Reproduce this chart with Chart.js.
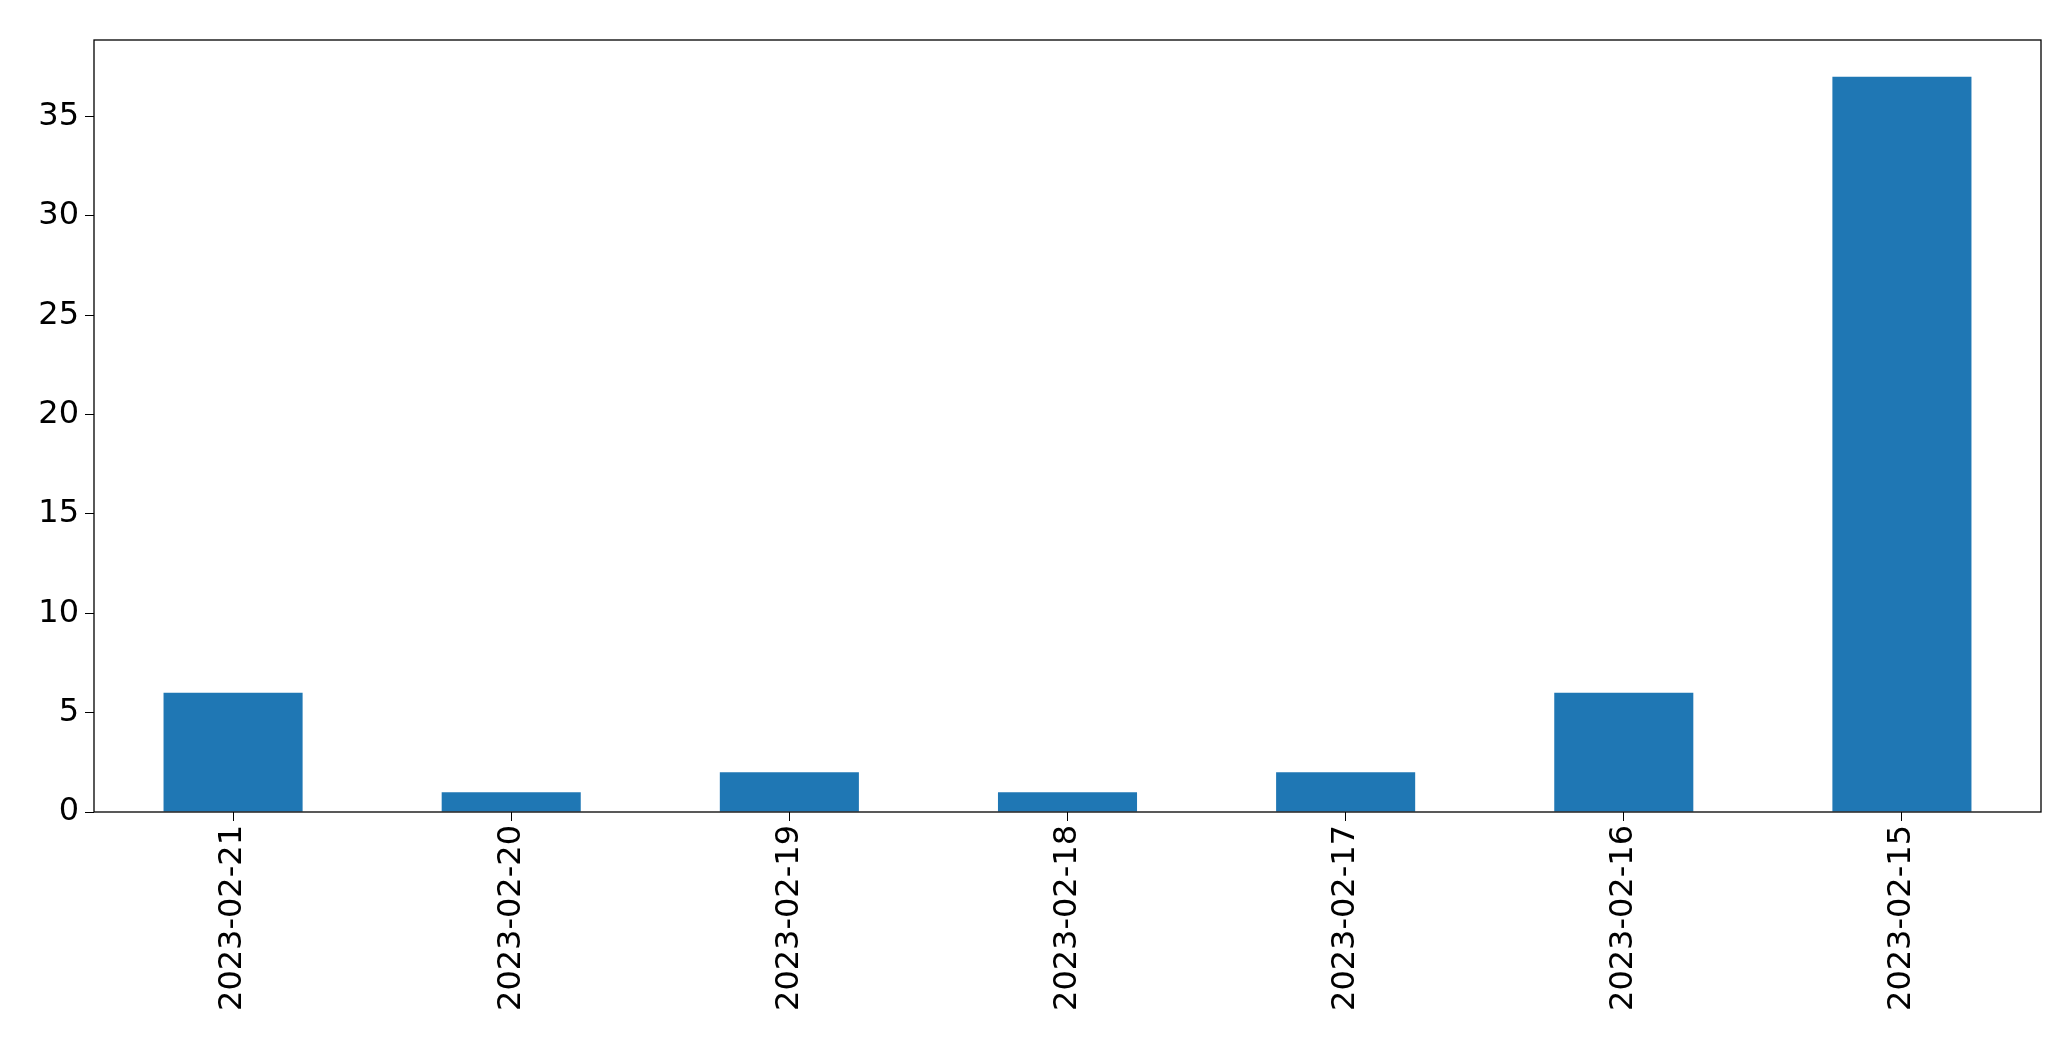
<!DOCTYPE html>
<html><head><meta charset="utf-8">
<script src="https://cdn.jsdelivr.net/npm/chart.js@4"></script>
<style>html,body{margin:0;padding:0;background:#fff}#c{display:block}</style>
</head><body>
<canvas id="c" width="2071" height="1061" style="width:2071px;height:1061px"></canvas>
<script>
const categories = ["2023-02-21","2023-02-20","2023-02-19","2023-02-18","2023-02-17","2023-02-16","2023-02-15"];
const values = [6,1,2,1,2,6,37];
const yTicks = [0,5,10,15,20,25,30,35];

const frame = {
  id:'frame',
  afterDraw(chart){
    const {ctx, chartArea:a} = chart;
    ctx.save(); ctx.strokeStyle='#000'; ctx.lineWidth=1.3;
    ctx.strokeRect(a.left, a.top, a.right-a.left, a.bottom-a.top);
    ctx.restore();
  }
};
new Chart(document.getElementById('c'), {
  type:'bar',
  data:{labels:categories, datasets:[{data:values, backgroundColor:'#1f77b4', categoryPercentage:1, barPercentage:0.5}]},
  options:{
    responsive:false, animation:false,
    layout:{padding:{top:40,right:30,left:0,bottom:0}},
    plugins:{legend:{display:false}, tooltip:{enabled:false}},
    scales:{
      x:{offset:true,
        grid:{display:true, drawOnChartArea:false, drawTicks:true, tickLength:9, color:'#000', offset:false},
        border:{display:false},
        ticks:{color:'#000', font:{family:'DejaVu Sans', size:32}, maxRotation:90, minRotation:90, padding:4},
        afterFit(s){ s.height = 249; }
      },
      y:{min:0, max:38.85,
        afterBuildTicks(s){ s.ticks = yTicks.map(v=>({value:v})); },
        grid:{display:true, drawOnChartArea:false, drawTicks:true, tickLength:9, color:'#000'},
        border:{display:false},
        ticks:{color:'#000', font:{family:'DejaVu Sans', size:32}, padding:6},
        afterFit(s){ s.width = 94; }
      }
    }
  },
  plugins:[frame]
});
</script>
</body></html>
